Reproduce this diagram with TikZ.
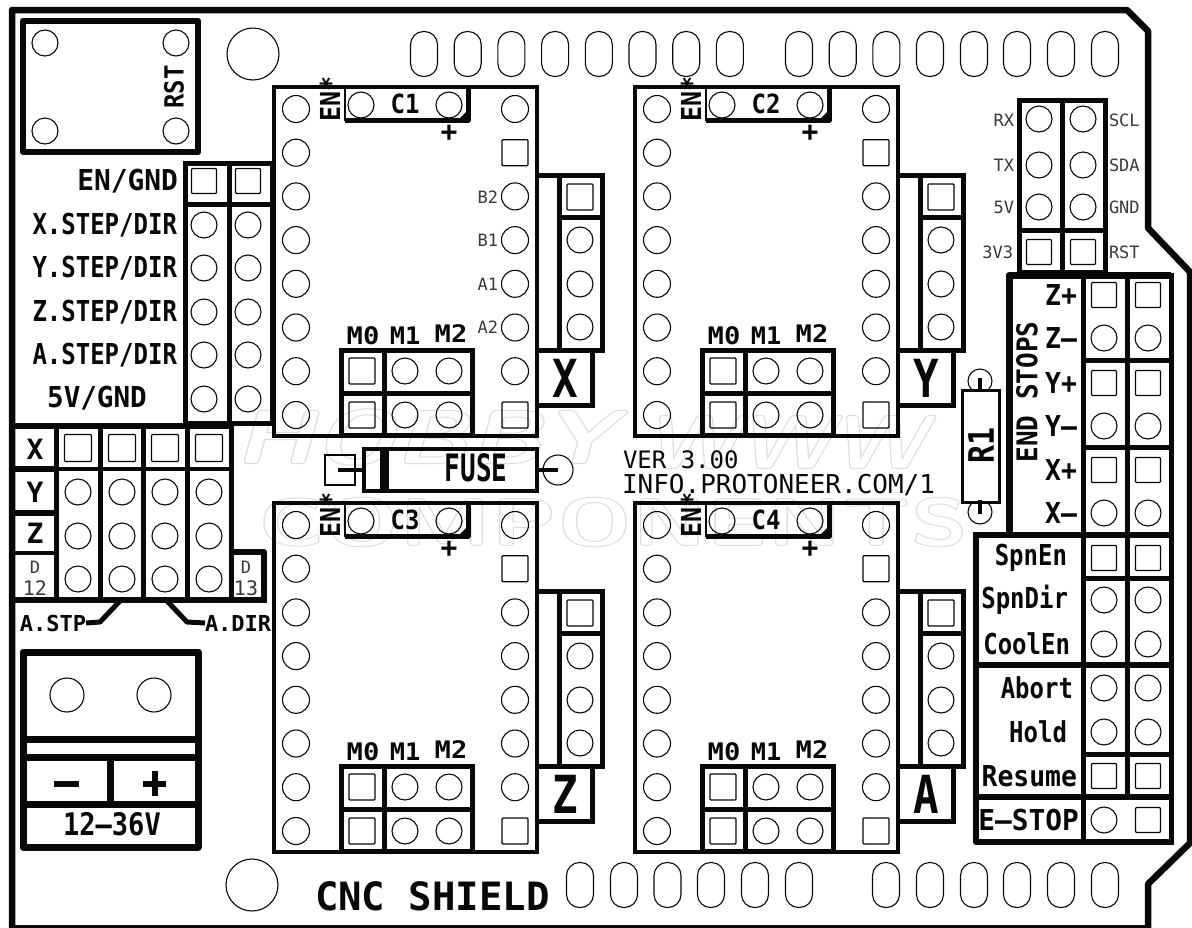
\documentclass[tikz,border=0pt]{standalone}
\usepackage{fontspec}
\usepackage{graphicx}
\newfontfamily\pcb{DejaVu Sans Mono}
\newcommand{\fsz}[1]{\fontsize{#1}{#1}\selectfont}
\newcommand{\tall}[2][1.2]{\scalebox{1}[#1]{#2}}
\newcommand{\hollow}[1]{\special{pdf:code 1 Tr 1.2 w}#1\special{pdf:code 0 Tr}}
\definecolor{ink}{gray}{0.03}
\tikzset{
  x=1pt,y=-1pt,
  pin/.style={draw=ink,line width=1.1pt,fill=none},
  sq/.style={draw=ink,line width=1.3pt,rounded corners=1pt},
  frame/.style={draw=ink,line width=5pt,line join=miter,line cap=rect},
  thickframe/.style={draw=ink,line width=6.5pt,line join=round,line cap=rect},
  modframe/.style={draw=ink,line width=3.5pt,line join=miter},
  lbl/.style={inner sep=0pt,outer sep=0pt,text=ink,font=\pcb\bfseries\fsz{24}},
  thin lbl/.style={inner sep=0pt,outer sep=0pt,text=ink!80,font=\pcb\fsz{17}},
  big lbl/.style={inner sep=0pt,outer sep=0pt,text=ink,font=\pcb\bfseries\fsz{50}},
  mark lbl/.style={inner sep=0pt,text=black!13,font=\sffamily\bfseries\itshape},
}
\newcommand{\padc}[3][13]{\draw[pin] (#2,#3) circle[radius=#1];}
\newcommand{\pads}[3][12.5]{\draw[sq] (#2-#1,#3-#1) rectangle (#2+#1,#3+#1);}
\newcommand{\oblong}[2]{\draw[pin,rounded corners=13pt] (#1-13.5,#2-22.5) rectangle (#1+13.5,#2+22.5);}
\begin{document}
\begin{tikzpicture}
\useasboundingbox (0,0) rectangle (1192,927);
\clip (0,0) rectangle (1192,927);
\fill[white] (0,0) rectangle (1192,927);

% faint watermark
\node[mark lbl,font=\sffamily\bfseries\itshape\fsz{90}] (wm1) at (425,437) {\hollow{\scalebox{1.12}[0.85]{HOBBY}}};
\node[mark lbl,font=\sffamily\bfseries\fsz{84},anchor=west] (wm2) at (258,522) {\hollow{\scalebox{1.12}[0.8]{COMPONENTS}}};
\node[mark lbl,font=\sffamily\bfseries\itshape\fsz{90}] (wm3) at (785,442) {\hollow{\scalebox{1.0}[0.85]{WWW}}};

% board outline
\draw[draw=ink,line width=6.5pt,line join=round]
  (12,935) -- (12,10) -- (1127,10) -- (1148,31) -- (1148,228) -- (1190,272)
  -- (1190,843) -- (1148,884) -- (1148,935);
\draw[draw=ink,line width=2.5pt] (12,926.5) -- (1148,926.5);

% mounting holes
\draw[pin] (253,54) circle[radius=26];
\draw[pin] (252,885) circle[radius=26];
\foreach \x in {424,467.7,511.4,555.1,598.8,642.5,686.2,729.9,799,842.7,886.4,930,974,1017,1061,1105} {\oblong{\x}{54}}
\foreach \x in {580,624,667.5,711,755,799,886,930,974,1017,1061,1105} {\oblong{\x}{885}}

% reset button
\draw[thickframe] (23,21) rectangle (198,152);
\padc{45}{43}\padc{176}{43}\padc{45}{131}\padc{176}{131}
\node[lbl,rotate=90] (rst) at (174,87) {\tall[1.1]{RST}};

% driver modules
\foreach \dx/\dy/\c/\m/\n in {0/0/C1/X/a,361/0/C2/Y/b,0/416/C3/Z/c,361/416/C4/A/d} {
\begin{scope}[shift={(\dx,\dy)}]
  \draw[modframe] (274,87) rectangle (537,436);
  \foreach \y in {109,152.7,196.4,240.1,283.8,327.5,371.2,415} {\padc[13.5]{296}{\y}}
  \foreach \y in {109,196.4,240.1,283.8,327.5,371.2} {\padc[13.5]{515}{\y}}
  \pads[13]{515}{152.7}\pads[13]{515}{415}
  % capacitor
  \draw[draw=ink,line width=2.5pt] (345,88) -- (345,121);
  \draw[draw=ink,line width=5pt,line join=round] (345,120) -- (468,120) -- (468,88);
  \fill[ink] (468,120) -- (458,120) -- (468,110) -- cycle;
  \padc{361}{105}\padc{449}{105}
  \node[lbl] (cap\n) at (405,104) {\tall[1.1]{\c}};
  \node[lbl,font=\pcb\bfseries\fsz{25},rotate=90] (en\n) at (330,99) {\tall[1.1]{EN*}};
  \node[lbl,font=\pcb\bfseries\fsz{28}] (plus\n) at (449,133) {+};
  % microstep jumpers
  \draw[frame] (341,350) rectangle (472,435) (384,350) -- (384,435) (341,393) -- (472,393);
  \pads[13]{362}{371}\pads[13]{362}{415}
  \padc{405}{371}\padc{449}{371}\padc{405}{415}\padc{449}{415}
  \node[lbl,font=\pcb\bfseries\fsz{23}] (mz\n) at (363,336) {\scalebox{1.18}[1.05]{M0}};
  \node[lbl,font=\pcb\bfseries\fsz{23}] (mo\n) at (405,336) {\scalebox{1.1}[1.05]{M1}};
  \node[lbl,font=\pcb\bfseries\fsz{23}] (mt\n) at (451,334) {\scalebox{1.18}[1.05]{M2}};
  % motor connector
  \draw[frame] (538,175) -- (602,175) -- (602,350) -- (559,350) -- (559,175) (559,217) -- (602,217);
  \pads[13]{580}{197}\padc{580}{240}\padc{580}{284}\padc{580}{327}
  \draw[draw=ink,line width=5pt] (537,350) -- (592,350) (592,350) -- (592,405) -- (537,405);
  \node[big lbl] (mot\n) at (565,378) {\scalebox{0.85}[1.05]{\m}};
\end{scope}}

% X driver coil labels
\node[thin lbl,anchor=east] (b2) at (498,197) {B2};
\node[thin lbl,anchor=east] (b1) at (498,240) {B1};
\node[thin lbl,anchor=east] (a1) at (498,284) {A1};
\node[thin lbl,anchor=east] (a2) at (498,327) {A2};

% step/dir header
\draw[frame] (185,163) rectangle (272,423) (229,163) -- (229,423) (185,204) -- (272,204);
\pads{204}{181}\pads{248}{181}
\foreach \y in {225,268,312,355,399} {\padc{204}{\y}\padc{248}{\y}}
\node[lbl,anchor=east] (l1) at (178,181) {\scalebox{1.16}[1.2]{EN/GND}};
\node[lbl,anchor=east] (l2) at (177,225) {\tall{X.STEP/DIR}};
\node[lbl,anchor=east] (l3) at (177,268) {\tall{Y.STEP/DIR}};
\node[lbl,anchor=east] (l4) at (177,312) {\tall{Z.STEP/DIR}};
\node[lbl,anchor=east] (l5) at (177,355) {\tall{A.STEP/DIR}};
\node[lbl] (l6) at (97,398) {\scalebox{1.15}[1.2]{5V/GND}};

% axis clone block
\draw[draw=ink,line width=6pt] (12,426) -- (232,426);
\draw[frame] (56,426) -- (56,600) (100,426) -- (100,600) (143,426) -- (143,600) (187,426) -- (187,600) (231,426) -- (231,600);
\draw[draw=ink,line width=4.5pt] (56,469) -- (232,469);
\draw[draw=ink,line width=6pt] (12,469) -- (56,469) (12,513) -- (56,513);
\draw[draw=ink,line width=4.5pt] (12,553) -- (56,553);
\draw[draw=ink,line width=6pt,line join=round] (232,552) -- (264,552) -- (264,600);
\draw[draw=ink,line width=6pt] (12,600) -- (267,600);
\foreach \x in {78,122,165,209} {\pads[13.5]{\x}{448}\padc{\x}{492}\padc{\x}{536}\padc{\x}{579}}
\node[lbl,font=\pcb\bfseries\fsz{28}] (ax) at (35,449) {X};
\node[lbl,font=\pcb\bfseries\fsz{28}] (ay) at (35,492) {Y};
\node[lbl,font=\pcb\bfseries\fsz{28}] (az) at (35,533) {Z};
\node[thin lbl] (d12a) at (35,567) {D};
\node[thin lbl,font=\pcb\fsz{20}] (d12b) at (35,588) {12};
\node[thin lbl] (d13a) at (246,567) {D};
\node[thin lbl,font=\pcb\fsz{20}] (d13b) at (246,588) {13};

% A.STP / A.DIR leads
\node[lbl,anchor=east,font=\pcb\bfseries\fsz{22}] (astp) at (86,623) {A.STP};
\node[lbl,anchor=west,font=\pcb\bfseries\fsz{22}] (adir) at (205,623) {A.DIR};
\coordinate (sa) at (120,601);\coordinate (sb) at (100,622);
\coordinate (da) at (167,601);\coordinate (db) at (187,622);
\draw[draw=ink,line width=5pt,line join=round] (astp.east) -- (sb) -- (sa);
\draw[draw=ink,line width=5pt,line join=round] (adir.west) -- (db) -- (da);

% power terminal
\draw[draw=ink,line width=7pt,line join=round] (23,652) rectangle (198,847);
\draw[draw=ink,line width=7pt] (23,739) -- (198,739) (23,757) -- (198,757) (23,804) -- (198,804) (110,757) -- (110,804);
\padc[17]{67}{695}\padc[17]{154}{695}
\draw[draw=ink,line width=6pt] (54,784) -- (79,784);
\draw[draw=ink,line width=6pt] (143,784) -- (166,784) (154.5,771) -- (154.5,796);
\node[lbl,font=\pcb\bfseries\fsz{27}] (volt) at (112,824) {\tall[1.15]{12–36V}};

% fuse
\draw[draw=ink,line width=1.4pt] (325,455) rectangle (355,485);
\draw[draw=ink,line width=4.5pt] (338,470) -- (362,470);
\padc[15]{558}{470}
\draw[draw=ink,line width=4.5pt] (538,470) -- (558,470);
\draw[draw=ink,line width=4.5pt,line join=miter] (364,449) rectangle (537,491);
\draw[draw=ink,line width=9pt] (384,449) -- (384,491);
\node[lbl,font=\pcb\bfseries\fsz{26}] (fuse) at (476,468) {\scalebox{1}[1.45]{FUSE}};

% version text
\node[lbl,anchor=west,font=\pcb\fsz{24}] (ver) at (623,460) {VER 3.00};
\node[lbl,anchor=west,font=\pcb\fsz{26}] (info) at (622,485) {INFO.PROTONEER.COM/1};

% UART / I2C header
\draw[frame] (1019,100) rectangle (1105,272) (1062,100) -- (1062,272) (1019,230) -- (1105,230);
\foreach \y in {119,165,207} {\padc{1039}{\y}\padc{1083}{\y}}
\pads{1039}{252}\pads{1083}{252}
\node[thin lbl,anchor=east] (rx) at (1014,120) {RX};
\node[thin lbl,anchor=east] (tx) at (1014,165) {TX};
\node[thin lbl,anchor=east] (fv) at (1014,207) {5V};
\node[thin lbl,anchor=east] (tv) at (1013,252) {3V3};
\node[thin lbl,anchor=west] (scl) at (1109,120) {SCL};
\node[thin lbl,anchor=west] (sda) at (1109,165) {SDA};
\node[thin lbl,anchor=west] (gnd) at (1109,207) {GND};
\node[thin lbl,anchor=west] (rs) at (1109,252) {RST};

% R1
\padc[12]{980}{381}\padc[12]{980}{512}
\draw[draw=ink,line width=3pt,fill=white] (962,390) rectangle (999,502);
\draw[draw=ink,line width=4pt] (980,378) -- (980,392) (980,500) -- (980,514);
\node[lbl,rotate=90,font=\pcb\bfseries\fsz{26}] (r1) at (981,445) {\scalebox{1.15}[1.35]{R1}};

% end stops
\draw[draw=ink,line width=7pt,line join=round] (1009,532) -- (1009,275) -- (1171,275);
\draw[frame] (1171,275) -- (1171,535) (1083,275) -- (1083,535) (1127,275) -- (1127,535);
\draw[frame] (1083,360) -- (1171,360) (1083,447) -- (1171,447);
\draw[draw=ink,line width=6pt] (973,535) -- (1171,535);
\foreach \y in {295,383,470} {\pads{1104}{\y}\pads{1148}{\y}}
\foreach \y in {338,426,513} {\padc{1104}{\y}\padc{1148}{\y}}
\node[lbl,anchor=east] (zp) at (1077,295) {\scalebox{1.1}[1.2]{Z+}};
\node[lbl,anchor=east] (zm) at (1077,338) {\scalebox{1.1}[1.2]{Z–}};
\node[lbl,anchor=east] (yp) at (1077,383) {\scalebox{1.1}[1.2]{Y+}};
\node[lbl,anchor=east] (ym) at (1077,426) {\scalebox{1.1}[1.2]{Y–}};
\node[lbl,anchor=east] (xp) at (1077,470) {\scalebox{1.1}[1.2]{X+}};
\node[lbl,anchor=east] (xm) at (1077,513) {\scalebox{1.1}[1.2]{X–}};
\node[lbl,rotate=90,font=\pcb\bfseries\fsz{26}] (es) at (1027,392) {\tall[1.1]{END STOPS}};

% spindle / control block
\draw[draw=ink,line width=6.5pt,line join=round] (976,535) -- (976,842) -- (1173,842);
\draw[frame] (1171,535) -- (1171,842) (1083,535) -- (1083,842) (1127,535) -- (1127,797);
\draw[frame] (1083,578) -- (1171,578) (1083,754) -- (1171,754);
\draw[draw=ink,line width=6pt] (976,665) -- (1171,665) (976,797) -- (1171,797);
\pads{1104}{558}\pads{1148}{558}
\foreach \y in {600,644,688,732} {\padc{1104}{\y}\padc{1148}{\y}}
\pads{1104}{776}\pads{1148}{776}
\padc{1104}{820}\pads{1148}{820}
\node[lbl,anchor=east] (sp1) at (1067,558) {\tall{SpnEn}};
\node[lbl,anchor=east] (sp2) at (1068,600) {\tall{SpnDir}};
\node[lbl,anchor=east] (sp3) at (1070,644) {\tall{CoolEn}};
\node[lbl,anchor=east] (ab) at (1073,688) {\tall{Abort}};
\node[lbl,anchor=east] (ho) at (1067,732) {\tall{Hold}};
\node[lbl,anchor=east] (re) at (1077,776) {\scalebox{1.1}[1.2]{Resume}};
\node[lbl,anchor=east] (es2) at (1079,820) {\scalebox{1.16}[1.2]{E–STOP}};

% title
\node[lbl,font=\pcb\bfseries\fsz{39},anchor=west] (title) at (315,896) {CNC SHIELD};
\end{tikzpicture}
\end{document}
